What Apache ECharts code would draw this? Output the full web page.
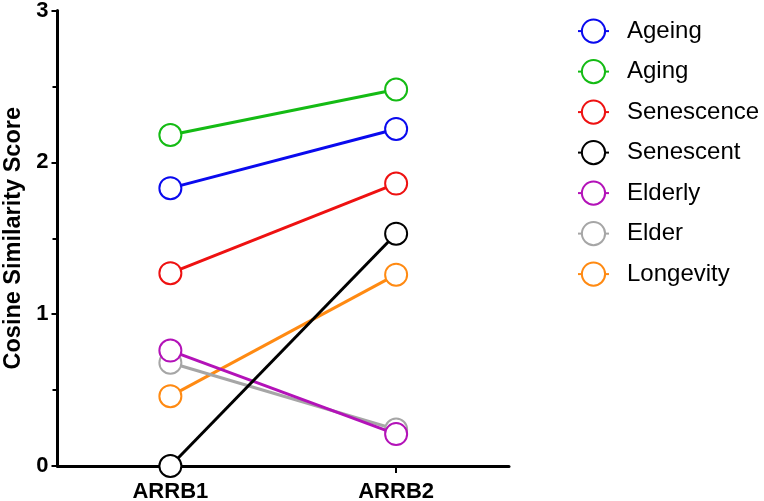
<!DOCTYPE html>
<html>
<head>
<meta charset="utf-8">
<script src="https://cdn.jsdelivr.net/npm/echarts@6/dist/echarts.min.js"></script>
<style>html,body{margin:0;padding:0;background:#fff}#c{width:764px;height:501px}</style>
</head>
<body>
<div id="c"></div>
<script>
var categories = ['ARRB1', 'ARRB2'];
var seriesNames = ['Ageing', 'Aging', 'Senescence', 'Senescent', 'Elderly', 'Elder', 'Longevity'];
var ageing = [1.83, 2.22];
var aging = [2.18, 2.48];
var senescence = [1.27, 1.86];
var senescent = [0, 1.53];
var elderly = [0.76, 0.21];
var elder = [0.68, 0.24];
var longevity = [0.46, 1.26];
var yTicks = [0, 1, 2, 3];
var colors = ['#0a0aee', '#14bb14', '#ee1111', '#000000', '#b312b8', '#a6a6a6', '#ff8a12'];

var values = [ageing, aging, senescence, senescent, elderly, elder, longevity];
var FONT = "'Liberation Sans', Arial, Helvetica, sans-serif";

var series = seriesNames.map(function (n, i) {
  return {
    name: n,
    type: 'line',
    data: values[i],
    symbol: 'emptyCircle',
    symbolSize: 22,
    clip: false,
    z: 20 - i,
    lineStyle: { color: colors[i], width: 3 },
    itemStyle: { color: colors[i], borderColor: colors[i], borderWidth: 3 },
    emphasis: { disabled: true }
  };
});

var chart = echarts.init(document.getElementById('c'), null, { renderer: 'canvas' });
chart.setOption({
  animation: false,
  backgroundColor: '#fff',
  grid: { left: 57.5, right: 255, top: 10.5, bottom: 35, containLabel: false, outerBoundsMode: 'none' },
  legend: {
    data: seriesNames,
    orient: 'vertical',
    left: 577,
    top: 18.5,
    padding: 0,
    itemWidth: 31,
    itemHeight: 29,
    itemGap: 15.3,
    itemStyle: { borderWidth: 3 },
    textStyle: { fontSize: 24, color: '#000', fontFamily: FONT, padding: [0, 0, 0, 13] }
  },
  xAxis: {
    type: 'category',
    data: categories,
    boundaryGap: true,
    axisLine: { lineStyle: { color: '#000', width: 3 } },
    axisTick: { show: true, alignWithLabel: true, length: 7, lineStyle: { color: '#000', width: 2 } },
    axisLabel: { fontSize: 22, fontWeight: 'bold', color: '#000', fontFamily: FONT, margin: 15 },
    splitLine: { show: false }
  },
  yAxis: {
    type: 'value',
    min: yTicks[0],
    max: yTicks[yTicks.length - 1],
    interval: 1,
    name: 'Cosine Similarity Score',
    nameLocation: 'middle',
    nameGap: 30,
    nameTextStyle: { fontSize: 23.5, fontWeight: 'bold', color: '#000', fontFamily: FONT },
    axisLine: { show: true, lineStyle: { color: '#000', width: 3 } },
    axisTick: { show: true, length: 6, lineStyle: { color: '#000', width: 2 } },
    minorTick: { show: true, splitNumber: 2, length: 5, lineStyle: { color: '#000', width: 2 } },
    axisLabel: { fontSize: 22, fontWeight: 'bold', color: '#000', fontFamily: FONT, margin: 9 },
    splitLine: { show: false }
  },
  series: series
});
</script>
</body>
</html>
